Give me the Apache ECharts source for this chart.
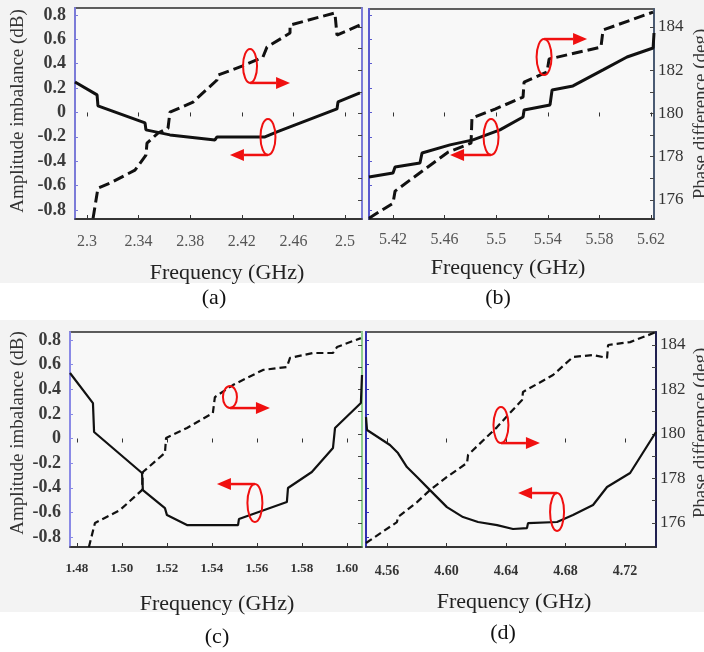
<!DOCTYPE html>
<html>
<head>
<meta charset="utf-8">
<script src="https://cdn.jsdelivr.net/npm/echarts@6/dist/echarts.min.js"></script>
<style>
html, body { margin: 0; padding: 0; background: #fff; }
#wrap { position: relative; width: 704px; height: 652px; overflow: hidden; }
.bg { position: absolute; left: 0; width: 704px; background: #f3f3f3; }
#main { position: absolute; left: 0; top: 0; width: 704px; height: 652px; }
</style>
</head>
<body>
<div id="wrap">
  <div class="bg" style="top:0;height:283px"></div>
  <div class="bg" style="top:320px;height:292px"></div>
  <div id="main"></div>
</div>
<script>
// tick labels
var ampTicks = [-0.8, -0.6, -0.4, -0.2, 0, 0.2, 0.4, 0.6, 0.8];
var phTicks = [176, 178, 180, 182, 184];
var phMinor = [176, 177, 178, 179, 180, 181, 182, 183, 184];
var freqA = [2.3, 2.34, 2.38, 2.42, 2.46, 2.5];
var freqB = [5.42, 5.46, 5.5, 5.54, 5.58, 5.62];
var freqC = [1.48, 1.50, 1.52, 1.54, 1.56, 1.58, 1.60];
var freqD = [4.56, 4.60, 4.64, 4.68, 4.72];

// (a) 2.3-2.5 GHz
var ampA = [[2.2907, 0.250], [2.3078, 0.144], [2.3085, 0.054], [2.345, -0.086], [2.3457, -0.143],
  [2.3643, -0.184], [2.3992, -0.225], [2.4008, -0.201], [2.438, -0.201], [2.4473, -0.160],
  [2.4574, -0.119], [2.4938, 0.029], [2.4946, 0.086], [2.5116, 0.160]];
var phA = [[2.3047, 175.15], [2.3085, 176.55], [2.3178, 176.78], [2.3372, 177.38], [2.3457, 178.07],
  [2.3465, 178.63], [2.355, 179.09], [2.3628, 179.32], [2.3643, 180.06], [2.3822, 180.53],
  [2.4008, 181.55], [2.4016, 181.78], [2.4202, 182.19], [2.4364, 182.61], [2.4395, 183.07],
  [2.4574, 183.72], [2.4574, 184.09], [2.4922, 184.65], [2.4938, 183.63], [2.5116, 184.09]];

// (b) 5.4-5.62 GHz
var ampB = [[5.4014, -0.529], [5.42, -0.496], [5.4216, -0.447], [5.4409, -0.414], [5.4425, -0.332],
  [5.4642, -0.266], [5.482, -0.225], [5.5029, -0.143], [5.5208, -0.037], [5.5216, 0.021],
  [5.5417, 0.062], [5.5433, 0.185], [5.5595, 0.218], [5.5828, 0.349], [5.6014, 0.455],
  [5.6216, 0.529], [5.6223, 0.652]];
var phB = [[5.4014, 175.16], [5.42, 175.85], [5.4216, 176.41], [5.4425, 177.33], [5.4626, 178.21],
  [5.4805, 178.63], [5.4812, 179.79], [5.4991, 180.20], [5.5208, 180.76], [5.5216, 181.45],
  [5.5394, 181.92], [5.541, 182.52], [5.5812, 183.07], [5.5828, 183.86], [5.6216, 184.69]];

// (c) 1.48-1.60 GHz
var ampC = [[1.4769, 0.532], [1.4871, 0.288], [1.4876, 0.053], [1.5089, -0.280], [1.5093, -0.419],
  [1.5191, -0.565], [1.52, -0.622], [1.5289, -0.703], [1.5516, -0.703], [1.552, -0.654],
  [1.5733, -0.516], [1.5738, -0.402], [1.5844, -0.272], [1.5938, -0.077], [1.5947, 0.085],
  [1.6062, 0.288], [1.6067, 0.516]];
var phC = [[1.4853, 174.92], [1.488, 176.0], [1.4991, 176.58], [1.5089, 177.48], [1.5093, 178.29],
  [1.5191, 179.15], [1.5196, 179.82], [1.5289, 180.27], [1.5404, 180.94], [1.5413, 181.66],
  [1.5493, 182.20], [1.5627, 182.88], [1.5733, 183.01], [1.5747, 183.42], [1.5849, 183.64],
  [1.5938, 183.64], [1.5956, 183.91], [1.6062, 184.31]];

// (d) 4.56-4.72 GHz
var ampD = [[4.5459, 0.174], [4.5466, 0.069], [4.562, -0.053], [4.5674, -0.118], [4.5734, -0.232],
  [4.5802, -0.313], [4.5889, -0.419], [4.6003, -0.557], [4.6111, -0.638], [4.6212, -0.678],
  [4.634, -0.703], [4.6447, -0.735], [4.6541, -0.727], [4.6548, -0.687], [4.6743, -0.678],
  [4.685, -0.622], [4.6985, -0.540], [4.7079, -0.394], [4.7234, -0.280], [4.7408, 0.053]];
var phD = [[4.5459, 175.10], [4.5667, 176.04], [4.5674, 176.27], [4.5802, 176.94], [4.5889, 177.48],
  [4.6003, 178.07], [4.6138, 178.70], [4.6145, 179.06], [4.634, 180.31], [4.6413, 180.85],
  [4.6508, 181.53], [4.6514, 181.89], [4.6716, 182.65], [4.685, 183.46], [4.6985, 183.55],
  [4.7079, 183.42], [4.7086, 184.0], [4.7234, 184.13], [4.7408, 184.58]];

var serif = '"Liberation Serif", "Times New Roman", serif';
var chart = echarts.init(document.getElementById('main'));

// panel setup: box, axis ranges, label looks
var panels = [
  { box: {left: 75, top: 8, width: 287, height: 211}, xr: [2.2907, 2.5132], ar: [-0.874, 0.857], pr: [175.121, 184.879],
    ticks: freqA, amp: ampA, ph: phA, fix: 0, xl: {fontSize: 16, fontWeight: 'normal', color: '#555', margin: 15},
    showAmp: true, showPh: false, lc: '#7b7bd8', rc: '#7b7bd8', lw: 3, dash: [11, 5] },
  { box: {left: 369, top: 9, width: 285, height: 210}, xr: [5.4014, 5.6223], ar: [-0.874, 0.849], pr: [175.121, 184.832],
    ticks: freqB, amp: ampB, ph: phB, fix: 0, xl: {fontSize: 16, fontWeight: 'normal', color: '#555', margin: 13},
    showAmp: false, showPh: true, lc: '#5a5ad0', rc: '#4a5a72', lw: 3, dash: [11, 5] },
  { box: {left: 70, top: 332, width: 292, height: 215}, xr: [1.4769, 1.6067], ar: [-0.881, 0.865], pr: [174.921, 184.584],
    ticks: freqC, amp: ampC, ph: phC, fix: 2, xl: {fontSize: 13, fontWeight: 'bold', color: '#333', margin: 15},
    showAmp: true, showPh: false, lc: '#8a8ae6', rc: '#8fcf8f', lw: 2.2, dash: [7, 4] },
  { box: {left: 366, top: 332, width: 290, height: 215}, xr: [4.5459, 4.7408], ar: [-0.881, 0.865], pr: [174.921, 184.584],
    ticks: freqD, amp: ampD, ph: phD, fix: 2, xl: {fontSize: 14, fontWeight: 'bold', color: '#333', margin: 17},
    showAmp: false, showPh: true, lc: '#3030b0', rc: '#202050', lw: 2.2, dash: [7, 4] }
];

var grid = [], xAxis = [], yAxis = [], series = [];

panels.forEach(function(p, i) {
  grid.push(Object.assign({show: true, borderColor: '#2a2a2a', borderWidth: 1.5, backgroundColor: '#f8f8f8'}, p.box));
  xAxis[i] = {
    type: 'value', gridIndex: i, min: p.xr[0], max: p.xr[1], position: 'bottom',
    axisLine: {show: true, onZero: false, lineStyle: {color: '#2a2a2a', width: 1.5}},
    axisTick: {show: true, inside: true, length: 4, customValues: p.ticks, lineStyle: {color: '#333'}},
    axisLabel: {
      customValues: p.ticks, fontFamily: serif, fontSize: p.xl.fontSize, fontWeight: p.xl.fontWeight,
      color: p.xl.color, margin: p.xl.margin,
      formatter: (function(fix) { return function(v) { return fix ? v.toFixed(fix) : String(v); }; })(p.fix)
    },
    splitLine: {show: false}
  };
  // top ticks only
  xAxis[4 + i] = {
    type: 'value', gridIndex: i, min: p.xr[0], max: p.xr[1], position: 'top',
    axisLine: {show: false},
    axisTick: {show: true, inside: true, length: 4, customValues: p.ticks, lineStyle: {color: '#333'}},
    axisLabel: {show: false}, splitLine: {show: false}
  };
  yAxis.push({
    type: 'value', gridIndex: i, position: 'left', min: p.ar[0], max: p.ar[1],
    axisLine: {show: true, onZero: false, lineStyle: {color: p.lc, width: 2}},
    axisTick: {show: true, inside: true, length: 3, customValues: ampTicks, lineStyle: {color: p.lc}},
    axisLabel: {
      show: p.showAmp, customValues: ampTicks, fontFamily: serif, fontSize: 18, fontWeight: 'bold',
      color: '#3a3a3a', margin: 9,
      formatter: function(v) { return v === 0 ? '0' : String(v); }
    },
    splitLine: {show: false}
  });
  yAxis.push({
    type: 'value', gridIndex: i, position: 'right', min: p.pr[0], max: p.pr[1],
    axisLine: {show: true, onZero: false, lineStyle: {color: p.rc, width: 2}},
    axisTick: {show: true, inside: true, length: 4, customValues: phMinor, lineStyle: {color: '#444'}},
    axisLabel: {show: p.showPh, customValues: phTicks, fontFamily: serif, fontSize: 17, color: '#333', margin: 4},
    splitLine: {show: false}
  });
  series.push({
    type: 'line', xAxisIndex: i, yAxisIndex: 2 * i, data: p.amp, symbol: 'none', z: 3,
    lineStyle: {color: '#111', width: p.lw}
  });
  series.push({
    type: 'line', xAxisIndex: i, yAxisIndex: 2 * i + 1, data: p.ph, symbol: 'none', z: 3,
    lineStyle: {color: '#111', width: p.lw, type: p.dash}
  });
});

chart.setOption({
  animation: false,
  backgroundColor: 'transparent',
  grid: grid, xAxis: xAxis, yAxis: yAxis, series: series
});

// red ellipse + arrow markers, placed in data units
var marks = [
  {g: 0, ph: true, f: 2.4264, v: 182.20, rx: 7, ry: 17, side: 1, dir: 1, len: 40},
  {g: 0, ph: false, f: 2.4403, v: -0.201, rx: 7.5, ry: 18, side: 1, dir: -1, len: 38},
  {g: 1, ph: true, f: 5.5371, v: 182.61, rx: 7.5, ry: 18, side: -1, dir: 1, len: 43},
  {g: 1, ph: false, f: 5.496, v: -0.201, rx: 7.5, ry: 18, side: 1, dir: -1, len: 41},
  {g: 2, ph: true, f: 1.548, v: 181.66, rx: 7, ry: 11, side: 1, dir: 1, len: 40},
  {g: 2, ph: false, f: 1.5591, v: -0.524, rx: 7.5, ry: 19, side: -1, dir: -1, len: 38},
  {g: 3, ph: true, f: 4.6366, v: 180.40, rx: 7.5, ry: 18, side: 1, dir: 1, len: 39},
  {g: 3, ph: false, f: 4.6743, v: -0.597, rx: 7, ry: 19, side: -1, dir: -1, len: 39}
];

function txt(s, x, y, size, rot, color) {
  return {
    type: 'text', x: x, y: y, rotation: rot || 0, z: 50, silent: true,
    style: {text: s, x: 0, y: 0, font: size + 'px ' + serif, fill: color || '#222', align: 'center', verticalAlign: 'middle'}
  };
}

var graphic = [];
marks.forEach(function(m) {
  var c = chart.convertToPixel({xAxisIndex: m.g, yAxisIndex: 2 * m.g + (m.ph ? 1 : 0)}, [m.f, m.v]);
  var y = c[1] + m.side * m.ry;
  var tip = c[0] + m.dir * m.len;
  var base = tip - m.dir * 14;
  graphic.push({type: 'ellipse', z: 60, silent: true, shape: {cx: c[0], cy: c[1], rx: m.rx, ry: m.ry},
    style: {fill: 'none', stroke: '#f01010', lineWidth: 2}});
  graphic.push({type: 'polyline', z: 60, silent: true, shape: {points: [[c[0], y], [base, y]]},
    style: {stroke: '#f01010', lineWidth: 2.5}});
  graphic.push({type: 'polygon', z: 60, silent: true, shape: {points: [[tip, y], [base, y - 6], [base, y + 6]]},
    style: {fill: '#f01010'}});
});

graphic.push(txt('Amplitude imbalance (dB)', 18, 111, 19, Math.PI / 2, '#333'));
graphic.push(txt('Amplitude imbalance (dB)', 18, 433, 19, Math.PI / 2, '#333'));
graphic.push(txt('Phase difference (deg)', 701, 114, 19, Math.PI / 2, '#333'));
graphic.push(txt('Phase difference (deg)', 701, 433, 19, Math.PI / 2, '#333'));
graphic.push(txt('Frequency (GHz)', 227, 273, 22));
graphic.push(txt('Frequency (GHz)', 508, 268, 22));
graphic.push(txt('Frequency (GHz)', 217, 604, 22));
graphic.push(txt('Frequency (GHz)', 514, 602, 22));
graphic.push(txt('(a)', 214, 298, 22, 0, '#111'));
graphic.push(txt('(b)', 498, 298, 22, 0, '#111'));
graphic.push(txt('(c)', 217, 637, 22, 0, '#111'));
graphic.push(txt('(d)', 503, 633, 22, 0, '#111'));

chart.setOption({graphic: graphic});
</script>
</body>
</html>
